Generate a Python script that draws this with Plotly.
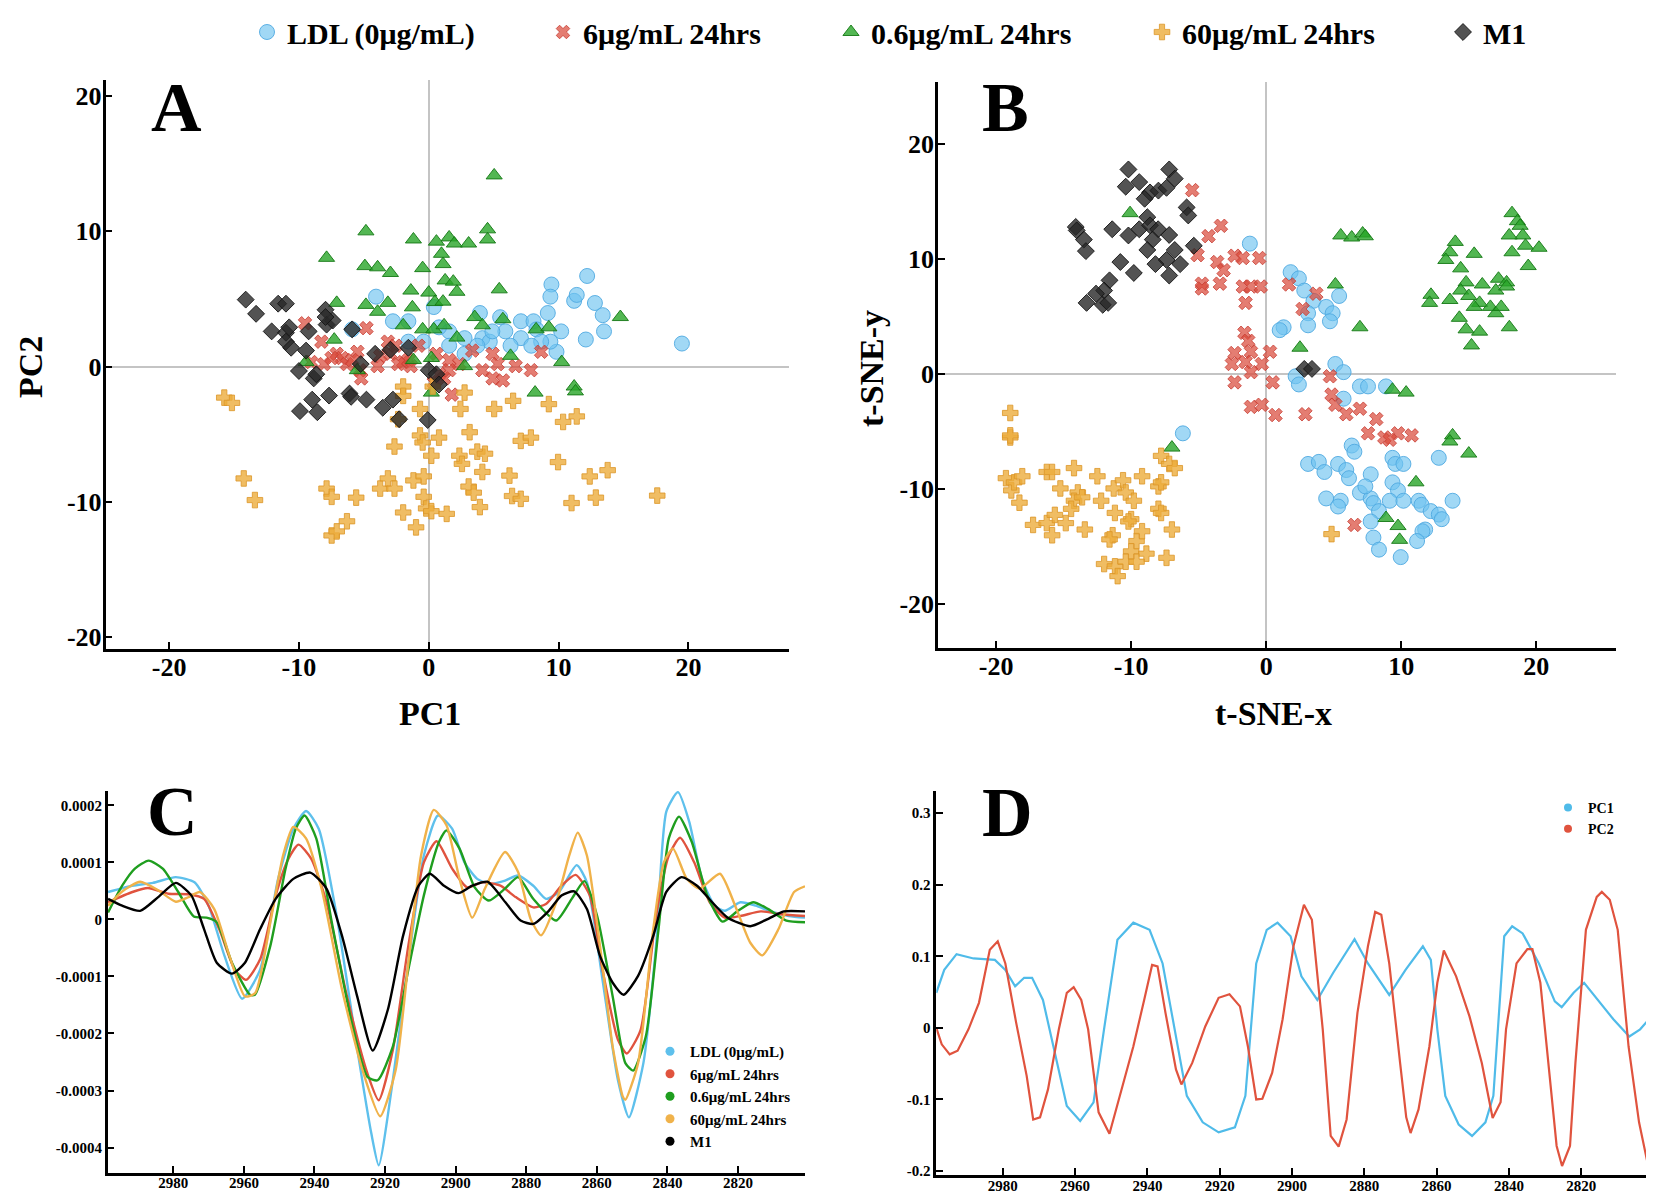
import plotly.graph_objects as go

# page is rendered with an 8px body margin -> figure is positioned to compensate
PAGE_W, PAGE_H = 1654, 1201
OFF = 8
FW, FH = PAGE_W - OFF, PAGE_H - OFF
FONT = "Liberation Serif"

# ---------------- Panel A (PCA scores) : (PC1, PC2) ----------------
A_LDL = [(-4.06,5.17),(-2.76,3.35),(-5.9,2.75),(-1.57,3.35),(0.39,4.4),(1.57,2.6),(2.76,2.1),(3.94,3.96),(4.13,2.1),(5.5,3.65),
         (5.9,2.6),(7.1,2.1),(7.1,3.35),(8.07,3.35),(9.17,3.96),(9.45,6.07),(9.37,5.17),(10.2,2.6),(9.84,1.09),(9.37,1.84),
         (11.2,4.86),(11.4,5.3),(12.2,6.7),(12.8,4.7),(12.1,2.0),(13.4,3.8),(13.5,2.6),(19.5,1.7),(2.76,0.94),(1.57,1.54),
         (0.79,2.9),(-0.39,1.84),(-1.57,1.84),(4.7,1.84),(6.3,1.54),(8.3,2.75),(8.66,1.84),(3.74,1.54),(7.9,1.54),(4.9,2.6)]
A_6 = [(-9.53,3.2),(-4.8,2.84),(-8.27,1.84),(-9.06,0.33),(-8.07,0.18),(-7.09,0.94),(-6.69,0.63),(-6.3,0.18),(-5.5,1.09),(-5.31,-0.27),
       (-5.2,-0.88),(-3.94,0.03),(-3.15,1.84),(-2.95,0.94),(-2.56,1.54),(-1.97,0.33),(-1.57,0.48),(-1.38,0.03),(-0.79,1.54),(0.59,0.94),
       (0.79,-0.57),(1.18,-0.88),(1.77,-2.08),(1.57,0.48),(2.36,0.18),(3.35,1.18),(4.13,-0.27),(4.92,0.94),(4.92,-0.88),(5.71,-1.03),
       (5.31,0.18),(6.69,0.03),(7.87,-0.27),(8.66,1.09),(0.39,-1.18),(1.57,-0.27),(-3.74,0.79),(-7.48,0.63),(-5.9,0.48),(-2.36,0.18)]
A_06 = [(5.04,14.14),(-4.84,10.0),(-1.18,9.4),(0.59,9.24),(1.57,9.55),(1.97,9.1),(3.07,9.1),(4.53,10.15),(4.53,9.4),(-7.87,8.04),
        (0.98,8.34),(1.1,7.58),(-4.92,7.43),(-3.94,7.34),(-2.95,6.92),(-0.47,7.28),(1.26,6.37),(1.89,6.28),(2.17,5.53),(-1.38,5.62),
        (0.0,5.47),(5.43,5.71),(-7.09,4.71),(-4.84,4.56),(-3.94,4.05),(-3.15,4.71),(-1.26,4.38),(0.47,4.77),(1.1,4.8),(3.54,3.66),
        (5.71,3.5),(14.76,3.66),(-1.97,3.05),(-0.47,2.75),(0.39,2.75),(1.18,3.05),(4.13,3.05),(8.27,2.75),(9.25,2.9),(-7.28,1.99),
        (2.17,2.14),(-9.45,0.33),(-5.5,-0.27),(-1.18,0.48),(0.2,0.63),(2.76,0.03),(6.3,0.79),(10.24,0.33),(8.19,-1.93),(11.2,-1.48),
        (11.3,-1.84),(0.2,-1.93)]
A_60 = [(-15.75,-2.3),(-15.16,-2.69),(-14.25,-8.28),(-13.39,-9.88),(-7.87,-9.03),(-7.48,-9.64),(-7.48,-12.5),(-7.09,-12.2),(-6.3,-11.45),
        (-5.59,-9.7),(-3.74,-9.03),(-3.15,-8.28),(-2.64,-9.03),(-2.64,-5.92),(-1.97,-10.8),(-1.18,-8.43),(-0.98,-11.9),(-0.67,-5.1),
        (-0.47,-5.62),(-0.67,-3.14),(-0.39,-8.13),(-0.39,-9.64),(-0.2,-10.5),(0.2,-6.6),(0.2,-10.7),(0.79,-5.26),(1.38,-10.9),
        (2.36,-6.6),(2.56,-7.2),(2.44,-3.14),(2.76,-1.93),(3.15,-4.86),(3.07,-8.88),(3.46,-9.33),(3.74,-6.3),(3.94,-10.4),(4.13,-7.8),
        (4.33,-6.45),(5.04,-3.14),(6.5,-2.54),(6.22,-8.07),(6.42,-9.58),(7.09,-9.79),(7.09,-5.5),(7.87,-5.26),(9.25,-2.78),(9.96,-7.07),
        (10.35,-4.1),(11.4,-3.69),(11.0,-10.1),(12.4,-8.13),(12.87,-9.7),(13.78,-7.67),(17.6,-9.55),(-1.97,-1.48),(-1.97,-2.17),
        (-2.36,-3.9),(0.31,-1.48)]
A_M1 = [(-14.1,4.95),(-13.3,3.9),(-11.6,4.65),(-11.0,4.65),(-12.1,2.6),(-11.0,2.5),(-10.75,2.9),(-11.0,1.84),(-10.6,1.39),(-9.45,1.18),
        (-9.25,2.6),(-7.95,4.2),(-7.87,3.1),(-7.4,3.4),(-7.95,3.66),(-5.9,2.75),(-10.0,-0.33),(-8.86,-0.88),(-8.66,-0.57),(-8.98,-2.45),
        (-7.68,-2.15),(-9.92,-3.3),(-8.58,-3.38),(-6.1,-2.0),(-5.98,-2.24),(-4.8,-2.45),(-4.13,0.94),(-3.54,-3.05),(-2.76,-2.45),
        (-2.28,-3.9),(-0.08,-3.96),(0.0,-0.27),(0.59,-0.57),(0.79,-1.33),(-2.95,1.24),(-5.24,0.18),(-1.57,1.39)]

# ---------------- Panel B (t-SNE) : (t-SNE-x, t-SNE-y) ----------------
B_LDL = [(-1.21,11.35),(1.81,8.87),(2.42,8.33),(2.82,7.27),(3.5,6.38),(4.44,5.85),(5.4,6.8),(3.1,5.3),(4.92,5.3),(3.1,4.25),
         (4.72,4.6),(1.29,4.08),(1.0,3.83),(5.12,0.89),(5.73,0.18),(2.18,-0.18),(2.42,-0.89),(6.94,-1.06),(7.54,-1.06),(8.87,-1.06),
         (5.73,-2.13),(-6.17,-5.14),(6.33,-6.2),(6.53,-6.74),(3.1,-7.8),(3.9,-7.62),(4.31,-8.5),(5.32,-7.8),(5.93,-8.33),(6.13,-9.04),
         (7.74,-8.7),(9.35,-7.27),(9.56,-7.8),(10.16,-7.8),(12.78,-7.27),(9.35,-9.4),(9.76,-10.1),(4.44,-10.8),(5.52,-11.0),(5.32,-11.5),
         (6.94,-10.3),(7.74,-10.8),(7.94,-11.2),(8.35,-11.9),(9.15,-11.0),(10.16,-11.0),(11.29,-11.0),(11.5,-11.35),(12.18,-11.9),
         (12.78,-12.2),(13.0,-12.6),(13.8,-11.0),(7.74,-12.8),(11.77,-13.5),(11.57,-13.65),(11.17,-14.5),(7.94,-14.2),(8.35,-15.25),
         (9.96,-15.9),(7.34,-9.75)]
B_6 = [(-5.48,16.0),(-3.35,12.9),(-4.27,12.0),(-5.08,10.35),(-3.63,9.75),(-3.15,9.04),(-4.76,7.87),(-4.76,7.45),(-3.43,7.87),
       (-2.34,10.3),(-1.73,10.1),(-0.52,10.1),(-1.73,7.62),(-1.13,7.62),(-0.4,7.62),(-1.53,6.2),(1.69,7.8),(3.71,7.0),(2.7,5.67),
       (-1.61,3.6),(-1.33,2.9),(-1.13,1.95),(-2.34,1.84),(-2.54,0.89),(-1.53,1.06),(0.28,1.95),(-0.32,0.89),(-1.13,0.18),(-2.34,-0.71),
       (0.48,-0.71),(-1.13,-2.84),(-0.32,-2.66),(0.69,-3.55),(2.9,-3.48),(4.72,-0.18),(4.84,-1.77),(5.12,-2.66),(5.93,-3.48),
       (6.94,-3.0),(8.15,-3.9),(7.54,-5.14),(8.75,-5.5),(9.76,-5.14),(10.77,-5.32),(6.53,-13.1),(9.15,-5.7)]
B_06 = [(-10.08,14.0),(-6.98,-6.38),(2.5,2.3),(5.12,7.8),(6.94,4.08),(5.52,12.06),(6.33,11.88),(7.14,12.23),(7.34,11.99),
        (9.35,-1.35),(10.36,-1.6),(13.8,-5.32),(13.6,-5.85),(15.0,-6.9),(11.09,-9.4),(8.87,-12.5),(9.76,-13.2),(9.88,-14.4),
        (18.2,14.0),(18.6,13.3),(18.8,12.9),(19.0,12.06),(19.2,11.17),(20.2,10.99),(19.4,9.4),(18.2,10.6),(13.6,10.6),(14.0,11.5),
        (13.3,9.93),(15.4,10.46),(14.4,9.2),(14.8,7.98),(16.0,7.8),(17.2,8.3),(17.8,7.98),(17.0,7.27),(17.8,7.62),(12.2,6.9),
        (12.1,6.2),(13.6,6.45),(14.4,7.27),(15.0,6.8),(15.8,6.2),(15.4,5.85),(16.6,5.85),(17.0,5.3),(17.4,5.85),(14.3,4.9),
        (14.8,3.9),(15.8,3.7),(15.2,2.5),(18.0,4.08),(17.99,12.06)]
B_60 = [(-18.95,-3.37),(-18.95,-5.5),(-18.95,-5.32),(-19.27,-9.04),(-18.87,-10.1),(-18.67,-9.4),(-18.06,-8.87),(-18.27,-11.17),
        (-16.25,-8.5),(-15.85,-8.5),(-14.23,-8.16),(-12.5,-8.87),(-15.24,-9.93),(-13.95,-10.28),(-14.23,-11.0),(-14.44,-11.7),
        (-13.63,-10.7),(-17.26,-13.1),(-16.25,-12.94),(-15.65,-12.23),(-14.84,-12.94),(-15.85,-14.0),(-13.43,-13.5),(-12.22,-11.0),
        (-11.29,-9.93),(-11.2,-12.06),(-10.6,-9.22),(-10.4,-10.28),(-9.8,-11.0),(-10.0,-12.6),(-9.19,-8.87),(-10.2,-12.8),
        (-11.37,-14.0),(-11.6,-14.36),(-9.6,-14.5),(-10.0,-15.4),(-9.19,-13.65),(-8.87,-15.6),(-12.0,-16.5),(-11.2,-16.7),
        (-11.0,-17.55),(-10.4,-16.3),(-9.6,-16.3),(-7.98,-11.7),(-7.78,-12.06),(-7.98,-9.75),(-7.78,-9.4),(-7.78,-7.1),(-7.18,-7.8),
        (-6.77,-8.16),(-6.98,-13.5),(-7.38,-15.96),(4.84,-13.9)]
B_M1 = [(-10.2,17.8),(-7.18,17.8),(-6.77,17.0),(-10.4,16.3),(-9.4,16.7),(-8.6,15.8),(-9.0,15.25),(-7.98,15.96),(-7.38,16.2),
        (-5.89,14.5),(-5.77,13.8),(-14.1,12.8),(-14.03,12.5),(-13.5,11.7),(-13.35,10.7),(-11.4,12.6),(-10.2,12.06),(-9.4,12.6),
        (-8.8,13.65),(-8.6,12.94),(-8.0,12.6),(-8.4,11.7),(-7.18,12.1),(-8.8,10.8),(-6.77,10.8),(-7.38,9.93),(-10.8,9.75),(-9.8,8.8),
        (-8.2,9.57),(-6.37,9.57),(-7.18,8.58),(-5.36,11.17),(-11.6,8.16),(-12.0,7.27),(-12.6,7.0),(-13.3,6.2),(-12.1,6.03),
        (-11.7,6.2),(2.82,0.46),(3.39,0.46)]

# ---------------- Panel C (mean spectra, in units of 1e-4) : (wavenumber, value) ----------------
C_LDL = [(2998.5,0.48),(2991.6,0.59),(2985.8,0.64),(2979.3,0.74),(2974,0.65),(2970,0.24),(2965.5,-0.64),(2960.5,-1.39),(2955.4,-0.88),
         (2950.3,0.71),(2946,1.59),(2942.4,1.9),(2938.8,1.59),(2933.7,0.06),(2928,-2.23),(2923.9,-3.75),(2921.8,-4.31),(2917.8,-2.82),
         (2913.4,-0.76),(2909,1.12),(2905,1.82),(2901,1.59),(2897.5,1.0),(2893.9,0.71),(2890.3,0.62),(2886,0.68),(2882.3,0.77),
         (2878,0.59),(2874.4,0.36),(2870.7,0.48),(2865.7,0.95),(2862.8,0.65),(2858.4,-1.05),(2854,-2.82),(2850.9,-3.47),(2846.8,-2.52),
         (2843.2,-0.46),(2840.3,1.89),(2837,2.23),(2833.8,1.71),(2830.2,0.71),(2826.6,0.24),(2823.7,0.15),(2819.3,0.3),(2815,0.24),
         (2810.7,0.14),(2805.6,0.06),(2801,0.03)]
C_6 = [(2998.5,0.3),(2991.6,0.48),(2987.2,0.55),(2981.4,0.45),(2975.7,0.44),(2971.3,0.36),(2967,-0.17),(2962.6,-0.88),(2959.4,-1.06),
       (2955.4,-0.7),(2951,0.42),(2947.4,1.06),(2944.5,1.31),(2940.9,1.06),(2936.6,0.3),(2930.8,-1.35),(2925,-2.7),(2921.8,-3.17),
       (2917.8,-2.29),(2913.4,-0.46),(2909,1.0),(2905.4,1.37),(2901,0.89),(2896.7,0.56),(2892.4,0.65),(2887.3,0.59),(2883,0.39),
       (2878,0.21),(2874.4,0.27),(2870,0.59),(2866,0.78),(2862,0.42),(2858.4,-0.88),(2854,-2.11),(2851.5,-2.35),(2847.6,-1.94),
       (2843.2,0.06),(2839.6,1.12),(2836.4,1.43),(2832.4,1.0),(2828,0.3),(2823.7,0.03),(2819.3,0.06),(2813.5,0.14),(2807.8,0.09),
       (2801,0.06)]
C_06 = [(2998.5,0.12),(2994.5,0.59),(2990.9,0.89),(2987,1.03),(2983,0.89),(2978.6,0.48),(2974.2,0.05),(2970.6,0.03),(2967.7,-0.05),
        (2963.4,-0.76),(2958.3,-1.32),(2956.9,-1.32),(2952.5,-0.46),(2948.2,0.89),(2945.3,1.59),(2942.8,1.82),(2939.5,1.42),
        (2935.1,-0.05),(2929.4,-1.82),(2925,-2.76),(2922.1,-2.82),(2917.8,-2.23),(2913.4,-0.88),(2909,0.42),(2904.7,1.36),
        (2902.6,1.56),(2898.9,1.24),(2894.6,0.56),(2890.6,0.33),(2886,0.54),(2882.3,0.74),(2878,0.36),(2871.5,-0.02),(2867.1,0.36),
        (2863.5,0.67),(2859.9,0.06),(2855.5,-1.35),(2851.9,-2.52),(2849.7,-2.65),(2846.1,-2.05),(2842.5,-0.17),(2839.6,1.42),
        (2836.7,1.8),(2833.1,1.36),(2828.7,0.42),(2824.4,-0.04),(2820,0.15),(2815.7,0.3),(2811.4,0.18),(2806.3,-0.02),(2801,-0.05)]
C_60 = [(2998.5,0.24),(2994.5,0.49),(2989.4,0.66),(2984.3,0.51),(2979.3,0.31),(2975.7,0.39),(2972.5,0.48),(2968.4,0.18),
        (2964.1,-0.64),(2959.7,-1.35),(2956.8,-1.29),(2952.5,-0.05),(2948.9,1.12),(2946,1.62),(2942.4,1.42),(2938,0.54),
        (2932.2,-1.23),(2926.4,-2.64),(2921.4,-3.45),(2917,-2.64),(2913.4,-0.76),(2909.8,1.12),(2906.2,1.92),(2902.6,1.65),
        (2898.9,0.71),(2895.3,0.03),(2891.7,0.54),(2886,1.18),(2882.3,0.83),(2878.7,0.0),(2875.8,-0.28),(2871.5,0.3),(2867.8,1.12),
        (2865.4,1.52),(2862.8,1.12),(2859.1,-0.46),(2855.5,-2.23),(2852.6,-3.11),(2851.9,-3.16),(2848.3,-2.52),(2844,-0.17),
        (2841,1.0),(2838.4,1.24),(2834.5,0.71),(2830.9,0.54),(2825.1,0.8),(2820.8,0.24),(2816.5,-0.41),(2813.1,-0.63),(2808.5,-0.17),
        (2804.1,0.48),(2801,0.58)]
C_M1 = [(2998.5,0.36),(2994.5,0.24),(2989.4,0.15),(2984.3,0.39),(2979.3,0.64),(2974.9,0.42),(2971.3,-0.17),(2967.7,-0.76),
        (2963.4,-0.95),(2959.7,-0.76),(2955.4,-0.17),(2951,0.36),(2946,0.71),(2941.2,0.82),(2936.6,0.54),(2932.2,-0.29),
        (2927.9,-1.35),(2923.5,-2.3),(2919.2,-1.58),(2914.9,-0.29),(2910.5,0.59),(2907.3,0.8),(2903.3,0.59),(2899.2,0.46),
        (2895.3,0.59),(2891,0.66),(2885.9,0.3),(2881.6,-0.02),(2878,-0.08),(2873.6,0.15),(2870,0.42),(2866.4,0.49),(2862.8,0.18),
        (2859.1,-0.64),(2855.5,-1.11),(2852.4,-1.32),(2848.3,-0.99),(2844,-0.29),(2840.3,0.48),(2836,0.74),(2831.6,0.59),
        (2827.3,0.3),(2822.9,0.03),(2816.5,-0.12),(2811.4,0.01),(2807,0.14),(2801,0.14)]

# ---------------- Panel D (loadings) : (wavenumber, loading) ----------------
D_PC1 = [(2998.4,0.049),(2996.2,0.081),(2992.8,0.103),(2988.1,0.097),(2982.2,0.095),(2979.3,0.081),(2976.6,0.058),(2974.1,0.07),
         (2971.9,0.07),(2968.9,0.039),(2966,-0.026),(2962.3,-0.109),(2958.6,-0.13),(2954.9,-0.104),(2952,-0.002),(2948.3,0.123),
         (2943.9,0.147),(2939.4,0.137),(2935.8,0.09),(2932.8,0.007),(2929.1,-0.095),(2924.7,-0.132),(2920.3,-0.146),(2915.8,-0.139),
         (2912.9,-0.095),(2909.9,0.09),(2907,0.137),(2904,0.147),(2900.4,0.128),(2897.4,0.072),(2893,0.039),(2888.6,0.077),
         (2882.7,0.124),(2879,0.09),(2873.1,0.046),(2868.6,0.081),(2863.8,0.114),(2861.6,0.095),(2859.8,-0.002),(2857.6,-0.095),
         (2853.9,-0.135),(2850.2,-0.151),(2846.5,-0.132),(2844.3,-0.095),(2841.3,0.128),(2839.1,0.142),(2836.2,0.132),(2831.7,0.09),
         (2827.3,0.037),(2825.4,0.029),(2822.1,0.049),(2819.2,0.063),(2815.5,0.039),(2811.1,0.012),(2806.7,-0.012),(2803.7,-0.002),
         (2801.8,0.009)]
D_PC2 = [(2998.4,0.0),(2996.9,-0.023),(2994.7,-0.037),(2992.5,-0.032),(2989.5,-0.002),(2986.6,0.035),(2983.6,0.109),(2981.4,0.121),
         (2979.3,0.09),(2976.3,0.007),(2973.4,-0.067),(2971.6,-0.128),(2969.7,-0.125),(2967.5,-0.086),(2964.5,-0.002),(2962.3,0.049),
         (2960.4,0.057),(2958.3,0.039),(2956.4,-0.002),(2953.5,-0.118),(2950.5,-0.148),(2947.6,-0.095),(2943.9,-0.026),(2940.9,0.039),
         (2938.7,0.088),(2937.2,0.086),(2935,0.021),(2932.1,-0.058),(2930.6,-0.079),(2927.6,-0.049),(2924,0.002),(2920.3,0.042),
         (2917.3,0.047),(2914.4,0.03),(2912.2,-0.026),(2909.9,-0.1),(2908.2,-0.099),(2905.5,-0.063),(2902.6,0.012),(2899.6,0.114),
         (2896.7,0.172),(2894.5,0.151),(2891.5,-0.002),(2889.3,-0.151),(2887.1,-0.166),(2884.9,-0.128),(2881.9,0.021),(2879,0.114),
         (2877,0.162),(2875.3,0.158),(2873.1,0.09),(2870.1,-0.049),(2868.4,-0.125),(2867.2,-0.147),(2865,-0.114),(2862,-0.026),
         (2859.8,0.063),(2858,0.108),(2854.6,0.072),(2850.9,0.016),(2847.5,-0.049),(2844.5,-0.126),(2842.3,-0.104),(2840.8,-0.002),
         (2837.9,0.09),(2834.9,0.11),(2833.5,0.11),(2831.3,0.063),(2829,-0.049),(2826.8,-0.165),(2825.3,-0.193),(2823.1,-0.165),
         (2821.6,-0.049),(2818.7,0.137),(2815.7,0.183),(2814.3,0.19),(2812.1,0.179),(2809.9,0.137),(2806.9,-0.026),(2804,-0.132),
         (2801.8,-0.185)]

GROUPS = ["LDL (0μg/mL)", "6μg/mL 24hrs", "0.6μg/mL 24hrs", "60μg/mL 24hrs", "M1"]
D_NAMES = ["PC1", "PC2"]

AB_TICKS = [-20, -10, 0, 10, 20]
AB_TICKTEXT = ["-20", "-10", "0", "10", "20"]
C_YTICKS = [2, 1, 0, -1, -2, -3, -4]
C_YTICKTEXT = ["0.0002", "0.0001", "0", "-0.0001", "-0.0002", "-0.0003", "-0.0004"]
D_YTICKS = [0.3, 0.2, 0.1, 0, -0.1, -0.2]
D_YTICKTEXT = ["0.3", "0.2", "0.1", "0", "-0.1", "-0.2"]
WN_TICKS = [2980, 2960, 2940, 2920, 2900, 2880, 2860, 2840, 2820]

# ---------------- styles ----------------
SYM = ["circle", "x", "triangle-up", "cross", "diamond"]
FILL = ["rgba(110,195,240,0.65)", "rgba(218,75,60,0.72)", "rgba(40,165,40,0.8)",
        "rgba(236,172,60,0.8)", "rgba(40,40,40,0.8)"]
EDGE = ["rgba(80,170,225,0.9)", "rgba(200,60,50,0.8)", "rgba(20,120,20,0.9)",
        "rgba(220,150,40,0.8)", "rgba(20,20,20,0.9)"]
SIZE = [15, 12, 14, 13, 13]
LINECOL = ["#5ec0ec", "#e0533e", "#1f9e1f", "#f0b24a", "#000000"]
D_COL = ["#4fbbe9", "#e0533e"]
TOP_LEGENDS = ["legend", "legend4", "legend5", "legend6", "legend7"]
TOP_LEGEND_X = [247, 543, 831, 1142, 1443]   # page pixel positions of each top legend entry


def fx(t):
    """page pixel x -> figure paper fraction"""
    return (t - OFF) / FW


def fy(t):
    """page pixel y -> figure paper fraction"""
    return 1 - (t - OFF) / FH


fig = go.Figure()

A_SETS = [A_LDL, A_6, A_06, A_60, A_M1]
B_SETS = [B_LDL, B_6, B_06, B_60, B_M1]
C_SETS = [C_LDL, C_6, C_06, C_60, C_M1]

for i, pts in enumerate(A_SETS):
    fig.add_trace(go.Scatter(
        x=[p[0] for p in pts], y=[p[1] for p in pts], mode="markers", name=GROUPS[i],
        marker=dict(symbol=SYM[i], size=SIZE[i], color=FILL[i], line=dict(color=EDGE[i], width=1)),
        xaxis="x", yaxis="y", legend=TOP_LEGENDS[i], showlegend=True))

for i, pts in enumerate(B_SETS):
    fig.add_trace(go.Scatter(
        x=[p[0] for p in pts], y=[p[1] for p in pts], mode="markers", name=GROUPS[i],
        marker=dict(symbol=SYM[i], size=SIZE[i], color=FILL[i], line=dict(color=EDGE[i], width=1)),
        xaxis="x2", yaxis="y2", showlegend=False))

for i, pts in enumerate(C_SETS):
    fig.add_trace(go.Scatter(
        x=[p[0] for p in pts], y=[p[1] for p in pts], mode="lines", name=GROUPS[i],
        line=dict(color=LINECOL[i], width=2.4, shape="spline", smoothing=0.6),
        xaxis="x3", yaxis="y3", showlegend=False))
    fig.add_trace(go.Scatter(
        x=[None], y=[None], mode="markers", name=GROUPS[i],
        marker=dict(symbol="circle", size=9, color=LINECOL[i]),
        xaxis="x3", yaxis="y3", legend="legend2", showlegend=True))

for i, pts in enumerate([D_PC1, D_PC2]):
    fig.add_trace(go.Scatter(
        x=[p[0] for p in pts], y=[p[1] for p in pts], mode="lines", name=D_NAMES[i],
        line=dict(color=D_COL[i], width=2.2),
        xaxis="x4", yaxis="y4", showlegend=False))
    fig.add_trace(go.Scatter(
        x=[None], y=[None], mode="markers", name=D_NAMES[i],
        marker=dict(symbol="circle", size=8, color=D_COL[i]),
        xaxis="x4", yaxis="y4", legend="legend3", showlegend=True))

axis_common = dict(showline=True, linecolor="black", linewidth=2.5, ticks="inside", ticklen=7,
                   tickwidth=2, tickcolor="black", showgrid=False, mirror=False)
big_tick = dict(family=FONT, size=26, color="black", weight="bold")
small_tick = dict(family=FONT, size=15, color="black", weight="bold")
zl = dict(zeroline=True, zerolinecolor="#c4c4c4", zerolinewidth=1.5)

layout_kw = dict(
    width=FW, height=FH, paper_bgcolor="white", plot_bgcolor="white",
    margin=dict(l=0, r=0, t=0, b=0, autoexpand=False), showlegend=True,
    font=dict(family=FONT, color="black"),
    xaxis=dict(domain=[fx(105.5), fx(789)], range=[-24.9, 27.75], tickvals=AB_TICKS, ticktext=AB_TICKTEXT,
               tickfont=big_tick, ticklabelstandoff=-7, anchor="y", **zl, **axis_common),
    yaxis=dict(domain=[fy(649), fy(80)], range=[-20.9, 21.2], tickvals=AB_TICKS, ticktext=AB_TICKTEXT,
               tickfont=big_tick, ticklabelstandoff=-4, anchor="x", **zl, **axis_common),
    xaxis2=dict(domain=[fx(938), fx(1616)], range=[-24.3, 25.9], tickvals=AB_TICKS, ticktext=AB_TICKTEXT,
                tickfont=big_tick, ticklabelstandoff=-7, anchor="y2", **zl, **axis_common),
    yaxis2=dict(domain=[fy(648), fy(82)], range=[-23.8, 25.4], tickvals=AB_TICKS, ticktext=AB_TICKTEXT,
                tickfont=big_tick, ticklabelstandoff=-4, anchor="x2", **zl, **axis_common),
    xaxis3=dict(domain=[fx(107.7), fx(805)], range=[2998.6, 2801], tickvals=WN_TICKS,
                zeroline=False, tickfont=small_tick, ticklabelstandoff=-5, anchor="y3", **axis_common),
    yaxis3=dict(domain=[fy(1172.7), fy(791)], range=[-4.44, 2.25], tickvals=C_YTICKS, ticktext=C_YTICKTEXT,
                zeroline=False, tickfont=small_tick, anchor="x3", **axis_common),
    xaxis4=dict(domain=[fx(936.3), fx(1647)], range=[2998.4, 2801.8], tickvals=WN_TICKS,
                zeroline=False, tickfont=small_tick, ticklabelstandoff=-5, anchor="y4", **axis_common),
    yaxis4=dict(domain=[fy(1175), fy(791)], range=[-0.2056, 0.331], tickvals=D_YTICKS, ticktext=D_YTICKTEXT,
                zeroline=False, tickfont=small_tick, anchor="x4", **axis_common),
    legend2=dict(x=fx(650), xanchor="left", y=fy(1035), yanchor="top", tracegroupgap=0,
                 font=dict(family=FONT, size=15, color="black", weight="bold"),
                 bgcolor="rgba(0,0,0,0)", borderwidth=0),
    legend3=dict(x=fx(1548), xanchor="left", y=fy(792), yanchor="top", tracegroupgap=0,
                 font=dict(family=FONT, size=14, color="black", weight="bold"),
                 bgcolor="rgba(0,0,0,0)", borderwidth=0),
)
for name, lx in zip(TOP_LEGENDS, TOP_LEGEND_X):
    layout_kw[name] = dict(x=fx(lx), xanchor="left", y=fy(6), yanchor="top", orientation="h",
                           font=dict(family=FONT, size=30, color="black", weight="bold"),
                           bgcolor="rgba(0,0,0,0)", borderwidth=0)
fig.update_layout(**layout_kw)

ann_font_big = dict(family=FONT, size=70, color="black", weight="bold")
title_font = dict(family=FONT, size=34, color="black", weight="bold")
annots = [
    ("A", 176, 107, ann_font_big, 0), ("B", 1005, 107, ann_font_big, 0),
    ("C", 172, 811, ann_font_big, 0), ("D", 1007, 813, ann_font_big, 0),
    ("PC1", 430, 713, title_font, 0), ("t-SNE-x", 1273, 713, title_font, 0),
    ("PC2", 31, 367, title_font, -90), ("t-SNE-y", 872, 369, title_font, -90),
]
for txt, ax_, ay_, f, ang in annots:
    fig.add_annotation(text=txt, x=fx(ax_), y=fy(ay_), xref="paper", yref="paper",
                       showarrow=False, font=f, textangle=ang, xanchor="center", yanchor="middle")

fig.write_html("out.html")
